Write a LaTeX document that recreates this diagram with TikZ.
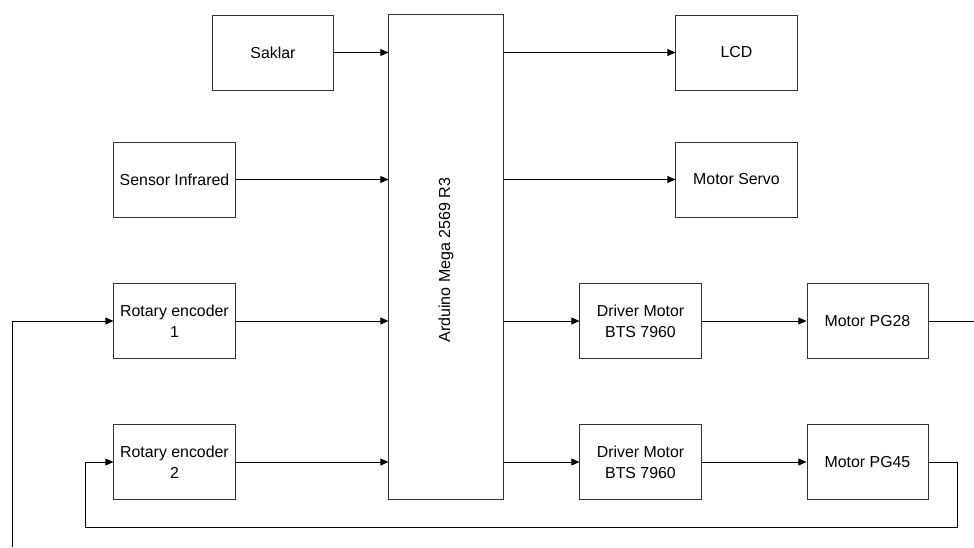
\documentclass[tikz,border=0pt]{standalone}
\usepackage{fontspec}
\setmainfont{Liberation Sans}
\usetikzlibrary{arrows.meta, positioning}

\begin{document}
\begin{tikzpicture}[
    x=0.025cm, y=-0.025cm,
    block/.style={rectangle, draw=black!80, line width=0.7pt, minimum width=3.025cm, minimum height=1.875cm, align=center, inner sep=1pt, font=\fontsize{11.3}{14.8}\selectfont},
    board/.style={block, minimum width=2.85cm, minimum height=12.1cm},
    arrow/.style={line width=0.7pt, -{Triangle[length=2mm, width=1.7mm]}},
    wire/.style={line width=0.7pt}
]
\useasboundingbox (0,0) rectangle (974,547);

% blocks
\node[board] (mcu) at (446,257) {};
\node[rotate=90, font=\fontsize{11.4}{14}\selectfont] (mculabel) at (446,260) {Arduino Mega 2569 R3};
\node[block] (saklar) at (273,52.5) {Saklar};
\node[block] (ir) at (174.5,179.5) {Sensor Infrared};
\node[block] (enc1) at (174.5,321) {Rotary encoder\\1};
\node[block] (enc2) at (174.5,462) {Rotary encoder\\2};
\node[block] (lcd) at (736.5,52.5) {LCD};
\node[block] (servo) at (736.5,179.5) {Motor Servo};
\node[block] (drv1) at (640.5,321) {Driver Motor\\BTS 7960};
\node[block] (drv2) at (640.5,462) {Driver Motor\\BTS 7960};
\node[block] (pg28) at (867.5,321) {Motor PG28};
\node[block] (pg45) at (867.5,462) {Motor PG45};

% inputs
\draw[arrow] (saklar.east) -- (saklar.east -| mcu.west);
\draw[arrow] (ir.east) -- (ir.east -| mcu.west);
\draw[arrow] (enc1.east) -- (enc1.east -| mcu.west);
\draw[arrow] (enc2.east) -- (enc2.east -| mcu.west);

% outputs
\draw[arrow] (lcd.west -| mcu.east) -- (lcd.west);
\draw[arrow] (servo.west -| mcu.east) -- (servo.west);
\draw[arrow] (drv1.west -| mcu.east) -- (drv1.west);
\draw[arrow] (drv2.west -| mcu.east) -- (drv2.west);
\draw[arrow] (drv1) -- (pg28);
\draw[arrow] (drv2) -- (pg45);

% feedback
\coordinate (out28) at (974,321);
\coordinate (in28) at (12,547);
\draw[wire] (pg28.east) -- (out28);
\draw[arrow] (in28) |- (enc1.west);
\draw[arrow] (pg45.east) -- (957,462) -- (957,527) -- (85,527) |- (enc2.west);
\end{tikzpicture}
\end{document}
